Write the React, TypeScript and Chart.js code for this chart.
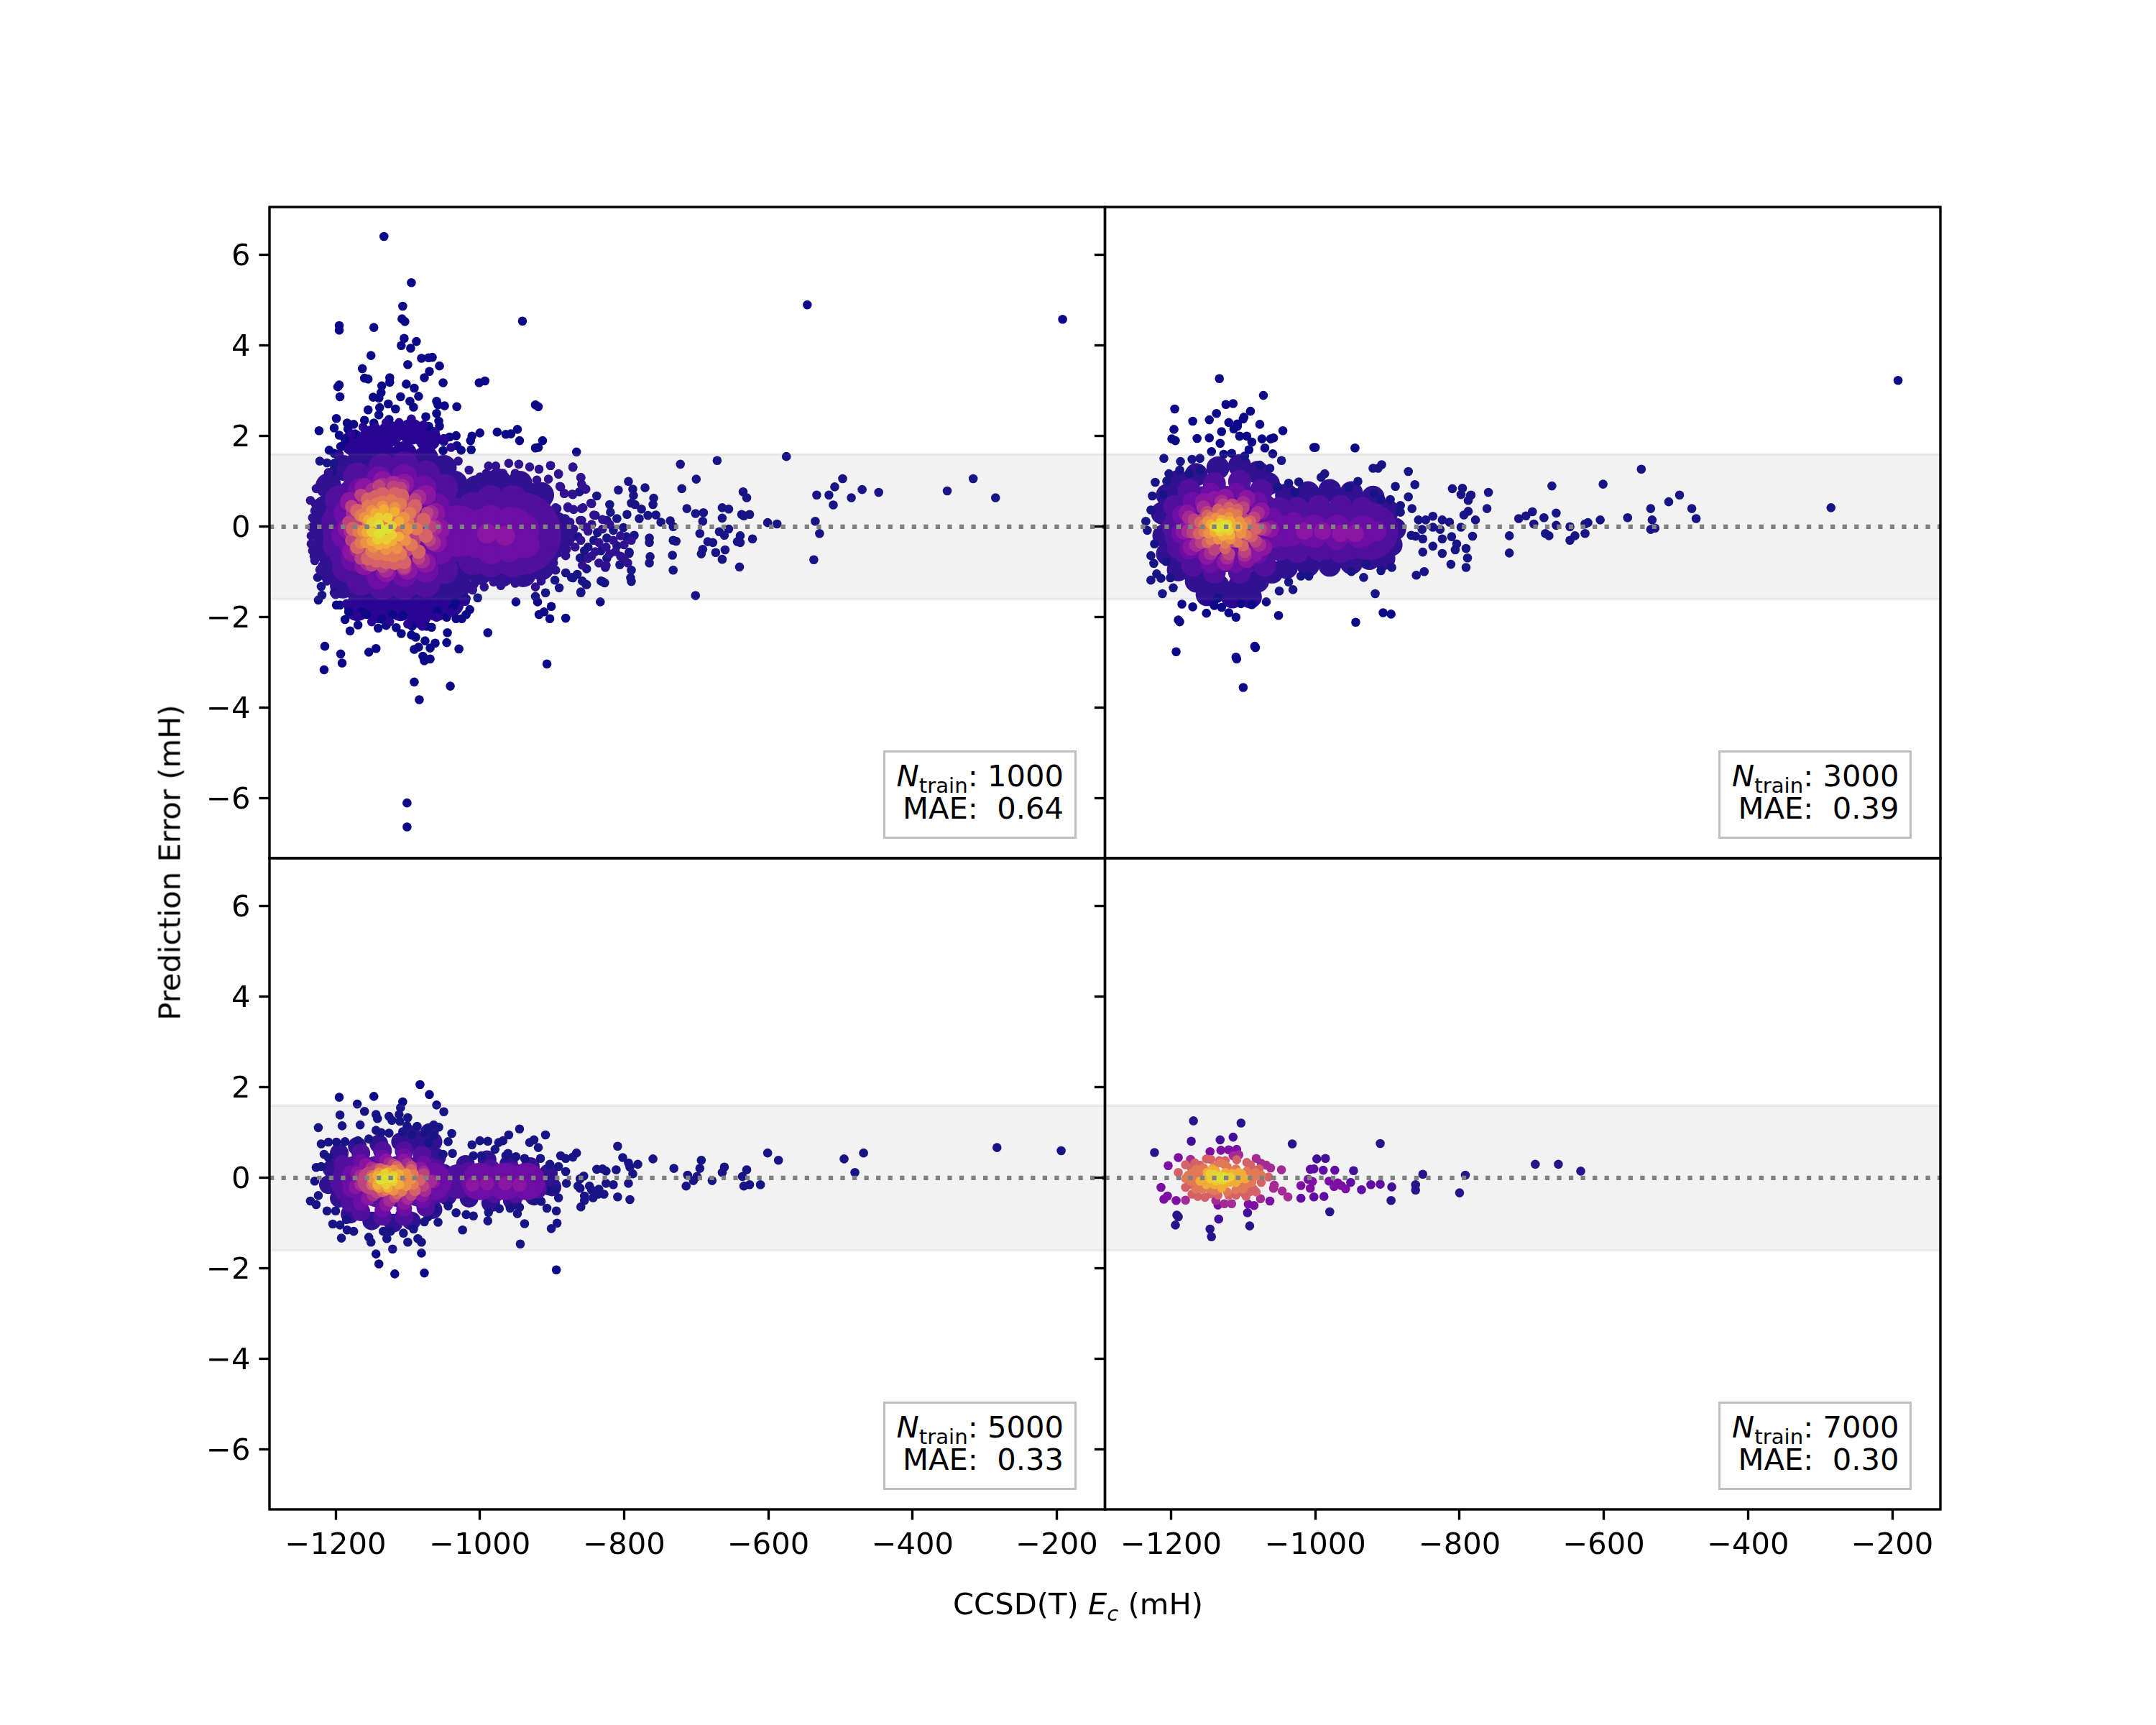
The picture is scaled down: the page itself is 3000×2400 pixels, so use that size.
import { useEffect, useRef } from 'react';
import { Chart, registerables } from 'chart.js';

Chart.register(...registerables);

type Pt = [number, number];

const xTicks = [-1200, -1000, -800, -600, -400, -200];
const yTicks = [-6, -4, -2, 0, 2, 4, 6];
const bandHalfWidth = 1.6;
const trainSizes = ['1000', '3000', '5000', '7000'];
const maeValues = ['0.64', '0.39', '0.33', '0.30'];

// panel A, Ntrain 1000: low density first, hot core last
const aOut: Pt[] = [[-1133,6.41],[-1095,5.39],[-1107,4.87],[-1108,4.59],[-1104,4.53],[-1195,4.44],[-1195,4.34],[-1147,4.4],[-941,4.54],[-1105,4.16],[-1088,4.09],[-1109,4],[-1096,3.94],[-1151,3.78],[-1081,3.72],[-1071,3.73],[-1066,3.74],[-1056,3.55],[-1100,3.58],[-1163,3.49],[-1070,3.43],[-1077,3.29],[-1160,3.28],[-1155,3.26],[-1125,3.29],[-1125,3.19],[-1051,3.18],[-1001,3.18],[-993,3.22],[-1195,3.13],[-1197,3.09],[-1194,2.87],[-1136,3.11],[-1102,3.15],[-1091,3.06],[-1137,2.96],[-1148,2.86],[-1140,2.84],[-1110,2.87],[-1085,2.88],[-1097,2.77],[-1060,2.77],[-1127,2.71],[-1092,2.64],[-1049,2.67],[-1032,2.65],[-1058,2.69],[-923,2.69],[-919,2.65],[-1139,2.63],[-1155,2.58],[-1117,2.6],[-1140,2.47],[-1199,2.39],[-1060,2.5],[-1075,2.43],[-1223,2.12],[-1202,2.18],[-1184,2.29],[-1183,2.16],[-1175,2.26],[-1160,2.35],[-1147,2.29],[-1126,2.37],[-1057,2.33],[-1056,2.22],[-1071,2.22],[-1195,2.02],[-1187,1.93],[-1173,2.05],[-976,2.09],[-964,2.04],[-957,2.05],[-948,2.15],[-945,1.9],[-913,1.9],[-923,1.74],[-919,1.75],[-1000,2.07],[-1011,2],[-1013,1.9],[-1033,2.01],[-1042,1.98],[-1050,1.88],[-1032,1.79],[-1026,1.69],[-1012,1.7],[-1051,1.68],[-1209,1.69],[-1202,1.62],[-1193,1.77],[-1222,1.45],[-1212,1.41],[-1202,1.4],[-1204,1.22],[-866,1.65],[-871,1.31],[-902,1.35],[-891,1.16],[-860,1.08],[-889,0.89],[-883,0.73],[-872,0.72],[-862,0.77],[-854,0.83],[-859,0.94],[-838,0.68],[-846,0.52],[-859,0.4],[-878,0.42],[-893,0.4],[-882,0.18],[-897,0.18],[-820,0.49],[-819,0.32],[-808,0.81],[-794,1],[-788,0.83],[-787,0.69],[-790,0.52],[-785,0.49],[-771,0.86],[-759,0.63],[-760,0.49],[-776,0.39],[-779,0.18],[-796,0.27],[-840,0.25],[-810,0.18],[-824,0.14],[-859,0.14],[-767,0.25],[-756,0.26],[-749,0.1],[-736,0.13],[-732,0],[-722,1.38],[-720,0.84],[-700,1.05],[-671,1.46],[-713,0.4],[-701,0.29],[-690,0.31],[-691,0.12],[-664,0.42],[-655,0.39],[-664,0.19],[-635,0.77],[-637,0.27],[-655,-0.05],[-668,-0.11],[-661,-0.19],[-695,-0.15],[-732,-0.3],[-728,-0.32],[-765,-0.25],[-765,-0.35],[-684,-0.33],[-677,-0.35],[-639,-0.2],[-639,-0.35],[-691,-0.5],[-693,-0.6],[-673,-0.57],[-660,-0.51],[-733,-0.63],[-664,-0.72],[-764,-0.66],[-765,-0.8],[-732,-0.96],[-640,-0.89],[-790,-0.96],[-791,-1.13],[-790,-1.21],[-701,-1.52],[-806,-0.84],[-826,-0.9],[-852,-0.93],[-830,-1.21],[-827,-1.24],[-853,-1.27],[-860,-1.44],[-871,-1.13],[-793,-0.59],[-824,-0.7],[-859,-0.7],[-864,-0.22],[-837,-0.13],[-815,-0.08],[-797,-0.22],[-786,-0.19],[-850,-0.45],[-832,-0.53],[-810,-0.42],[-793,-0.56],[-842,-0.3],[-824,-0.25],[-801,-0.02],[-575,1.55],[-546,4.9],[-192,4.58],[-535,0.12],[-529,-0.15],[-537,-0.73],[-533,0.7],[-516,0.7],[-508,0.88],[-497,1.06],[-510,0.48],[-485,0.64],[-470,0.82],[-447,0.76],[-352,0.79],[-316,1.06],[-285,0.64],[-630,0.64],[-634,0.24],[-626,0.27],[-601,0.09],[-588,0.06],[-643,-0.33],[-622,-0.27],[-1101,-6.1],[-1101,-6.63],[-1084,-3.82],[-1091,-3.43],[-1041,-3.52],[-1216,-3.16],[-1191,-3.01],[-1193,-2.81],[-1215,-2.64],[-1154,-2.77],[-1144,-2.69],[-1091,-2.71],[-1085,-2.66],[-1079,-2.86],[-1069,-2.92],[-1077,-2.96],[-1069,-2.68],[-1062,-2.57],[-1046,-2.56],[-1045,-2.34],[-1029,-2.7],[-989,-2.34],[-907,-3.03],[-1076,-2.52],[-1089,-2.44],[-1095,-2.39],[-1109,-2.36],[-1116,-2.23],[-1094,-2.2],[-1067,-2.22],[-1074,-2.2],[-1180,-2.3],[-1169,-2.17],[-1187,-2.05],[-1141,-2.24],[-1130,-2.18],[-1046,-2],[-1033,-2.03],[-1025,-2.03],[-1019,-1.94],[-1014,-1.83],[-918,-1.94],[-911,-1.88],[-903,-2.03],[-901,-1.76],[-881,-2.02],[-920,-1.66],[-950,-1.66],[-1003,-1.57],[-1019,-1.59],[-1034,-1.67],[-1038,-1.8],[-1059,-1.86],[-1107,-1.96],[-1121,-1.94],[-1136,-2.04],[-1157,-1.94],[-1164,-1.88],[-1182,-1.88],[-1199,-1.73],[-1194,-1.73],[-1224,-1.62],[-1219,-1.51],[-1220,-1.32],[-1225,-1.12],[-1202,-1.46],[-909,-1.46],[-923,-1.54],[-890,-1.35],[-896,-1.18],[-881,-1.02],[-873,-1.12],[-865,-1.05],[-860,-1.46],[-852,-1.28],[-858,-1.2],[-832,-1.2],[-833,-1.66],[-861,-0.69],[-855,-0.53]];
const aEdge: Pt[] = [[-1235,0.58],[-1227,0.84],[-1217,0.79],[-1229,0.35],[-1230,0.15],[-1233,-0.01],[-1234,-0.38],[-1232,-0.53],[-1229,-0.75],[-1219,-1],[-988,1.34],[-978,1.34],[-960,1.4],[-946,1.38],[-931,1.32],[-918,1.27],[-902,1.35],[-891,1.17],[-871,1.32],[-860,1.09],[-905,1.05],[-921,1.03],[-940,1.1],[-951,1.18],[-968,1.18],[-991,1.18],[-991,1.03],[-979,0.92],[-1008,0.84],[-961,0.95],[-945,0.9],[-928,0.87],[-888,0.88],[-883,0.74],[-871,0.71],[-858,0.9],[-853,0.83],[-845,0.51],[-857,0.42],[-870,0.38],[-878,0.44],[-895,0.42],[-908,0.52],[-922,0.6],[-898,0.21],[-881,0.16],[-861,0.14],[-842,0.26],[-830,0.16],[-895,-0.53],[-881,-0.43],[-905,-0.43],[-898,-0.69],[-895,-0.96],[-881,-0.64],[-898,-0.8],[-911,-0.75],[-994,-1.33],[-1008,-1.27],[-971,-1.3],[-951,-1.25],[-936,-1.17],[-923,-1.33],[-915,-1.2],[-928,-1.06],[-981,-1.22],[-1018,-1.06],[-1178,2.05],[-1162,2.2],[-1145,2.2],[-1130,2.3],[-1112,2.3],[-1095,2.38],[-1078,2.25],[-1062,2.1],[-1050,1.95],[-1040,1.75],[-1195,1.6],[-1210,1.2],[-1222,0.9],[-1228,0.5],[-1232,0.2],[-1234,-0.2],[-1230,-0.65],[-1222,-0.95],[-1212,-1.2],[-1200,-1.5],[-1185,-1.7],[-1170,-1.95],[-1150,-2.1],[-1125,-2.1],[-1100,-2.15],[-1080,-2.2],[-1060,-2],[-1040,-1.9],[-1020,-1.65],[-1010,-1.4],[-1030,1.45],[-1015,1.25],[-1000,1.1],[-880,-0.5],[-873,-0.1],[-875,0.1],[-877,-0.3],[-870,-0.05],[-860,-0.3],[-850,-0.1],[-845,0.05],[-835,-0.35],[-825,-0.45],[-815,-0.3],[-805,-0.2],[-800,-0.4],[-790,-0.3],[-840,-0.55],[-830,-0.05],[-820,0.05],[-812,-0.55],[-800,-0.7],[-868,-0.45],[-855,0],[-845,-0.65],[-835,-0.8],[-820,-0.6],[-805,-0.65],[-795,-0.8],[-850,-0.7],[-858,-0.85],[-825,-0.85]];
const aShell: Pt[] = [[-1210,0.9],[-1215,0.4],[-1218,-0.1],[-1215,-0.5],[-1208,-0.95],[-1190,1.3],[-1190,-1.3],[-1165,1.5],[-1165,-1.5],[-1135,1.6],[-1135,-1.6],[-1105,1.6],[-1105,-1.55],[-1075,1.5],[-1075,-1.5],[-1050,1.3],[-1050,-1.4],[-1035,0.95],[-1035,-1.1],[-1025,0.5],[-1025,-0.6],[-1025,0],[-1150,1.95],[-1125,2.05],[-1095,2.1],[-1072,1.95],[-1175,1.85],[-1170,-1.8],[-1140,-1.85],[-1110,-1.8],[-1085,-1.95],[-1060,-1.8],[-1040,-1.7],[-1005,0.85],[-975,1],[-945,0.95],[-915,0.7],[-1000,-1],[-970,-1.05],[-940,-1.05],[-915,-0.9],[-895,-0.4],[-895,0.05],[-885,-0.2],[-1030,-1.3]];
const aBase: Pt[] = [[-1130,-0.05]];
const aBaseTail: Pt[] = [[-985,-0.15],[-945,-0.15]];
const aDeep: Pt[] = [[-1195,0.6],[-1200,0.1],[-1198,-0.4],[-1185,-0.9],[-1170,1.1],[-1165,-1.2],[-1135,1.3],[-1135,-1.3],[-1105,1.35],[-1105,-1.3],[-1075,1.15],[-1075,-1.25],[-1050,0.85],[-1050,-0.95],[-1040,0.35],[-1040,-0.5],[-1010,0.45],[-985,0.6],[-955,0.6],[-925,0.3],[-1010,-0.75],[-985,-0.8],[-955,-0.8],[-925,-0.65],[-915,-0.2],[-1020,-0.15]];
const aFillLow: Pt[] = [[-1128,-0.05]];
const aFillTail: Pt[] = [[-1030,-0.1],[-990,-0.15],[-955,-0.15]];
const aViolet: Pt[] = [[-1185,0.3],[-1188,-0.2],[-1175,-0.7],[-1165,0.8],[-1140,1.05],[-1140,-1.1],[-1105,1.1],[-1105,-1.05],[-1078,0.85],[-1075,-0.95],[-1060,0.45],[-1055,-0.55],[-1050,-0.05],[-1005,0.05],[-985,0.2],[-960,0.15],[-935,-0.05],[-1005,-0.4],[-985,-0.55],[-960,-0.5],[-935,-0.4]];
const aPurple: Pt[] = [[-1180,0.55],[-1183,-0.05],[-1177,-0.55],[-1160,0.85],[-1160,-0.85],[-1135,1],[-1130,-1],[-1105,0.95],[-1100,-0.95],[-1075,0.7],[-1075,-0.8],[-1062,0.3],[-1060,-0.35],[-1055,-0.05],[-990,-0.15],[-965,-0.2]];
const aMagenta: Pt[] = [[-1175,0.3],[-1178,-0.1],[-1170,-0.5],[-1160,0.65],[-1155,-0.8],[-1135,0.9],[-1130,-0.95],[-1108,0.88],[-1105,-0.9],[-1085,0.65],[-1080,-0.75],[-1068,0.3],[-1065,-0.35],[-1063,-0.02],[-1148,0.8],[-1120,0.95]];
const aFillMid: Pt[] = [[-1128,-0.03]];
const aRose: Pt[] = [[-1178,0.45],[-1182,0.1],[-1178,-0.3],[-1165,0.7],[-1165,-0.7],[-1140,0.9],[-1135,-0.88],[-1110,0.85],[-1105,-0.9],[-1090,0.6],[-1085,-0.7],[-1073,0.3],[-1070,-0.3],[-1068,0],[-1150,-0.85],[-1120,0.88]];
const aSalmon: Pt[] = [[-1170,0.35],[-1176,-0.05],[-1170,-0.45],[-1155,0.6],[-1155,-0.7],[-1135,0.72],[-1130,-0.78],[-1108,0.68],[-1105,-0.78],[-1090,0.45],[-1085,-0.55],[-1078,0.15],[-1075,-0.2],[-1145,0.65],[-1118,0.72],[-1118,-0.8],[-1143,-0.75]];
const aFillHot: Pt[] = [[-1130,-0.05]];
const aCoral: Pt[] = [[-1165,0.25],[-1168,-0.1],[-1165,-0.35],[-1155,0.45],[-1150,-0.55],[-1135,0.55],[-1130,-0.62],[-1110,0.5],[-1110,-0.6],[-1097,0.3],[-1095,-0.4],[-1088,-0.05],[-1123,0.58],[-1120,-0.65],[-1100,0.1],[-1143,0.5],[-1142,-0.6]];
const aOrange: Pt[] = [[-1160,0.2],[-1162,-0.1],[-1158,-0.35],[-1150,0.35],[-1148,-0.45],[-1135,0.45],[-1130,-0.5],[-1118,0.42],[-1115,-0.48],[-1105,0.2],[-1103,-0.3],[-1100,-0.05],[-1125,0.3]];
const aAmber: Pt[] = [[-1155,0.15],[-1157,-0.12],[-1150,-0.32],[-1145,0.3],[-1133,0.38],[-1130,-0.38],[-1118,0.33],[-1112,0.12],[-1112,-0.22],[-1122,-0.32],[-1140,-0.4]];
const aGold: Pt[] = [[-1150,0.1],[-1150,-0.12],[-1142,-0.28],[-1140,0.2],[-1128,0.2],[-1122,0.02],[-1122,-0.18],[-1130,-0.28]];
const aCore: Pt[] = [[-1140,0.05],[-1135,-0.08],[-1128,-0.05],[-1140,-0.15]];

// panel B, Ntrain 3000
const bOut: Pt[] = [[-1195,2.6],[-1170,2.33],[-1196,2.15],[-1199,1.94],[-1194,1.9],[-1164,1.95],[-1147,1.96],[-1132,1.84],[-1100,2.38],[-1108,2.22],[-1113,2.16],[-1077,2.26],[-1095,2],[-1088,1.87],[-1092,1.7],[-1070,1.74],[-1062,1.94],[-1058,1.96],[-1045,2.12],[-1059,1.61],[-1047,1.46],[-1000,1.75],[-945,1.74],[-1210,1.51],[-1144,1.66],[-1127,1.6],[-1116,1.62],[-1187,1.44],[-1171,1.49],[-1160,1.51],[-1098,1.56],[-987,1.17],[-992,1.09],[-920,1.29],[-908,1.37],[-913,1.29],[-871,1.22],[-862,0.93],[-941,1],[-954,0.87],[-889,0.89],[-918,0.74],[-896,0.6],[-871,0.66],[-866,0.4],[-882,0.47],[-882,0.32],[-909,0.6],[-1023,0.99],[-1037,0.96],[-1052,0.88],[-1028,0.76],[-1222,0.98],[-1203,1.17],[-1188,1.25],[-1175,1.18],[-1160,1.25],[-1063,1.29],[-1077,1.36],[-1206,1.01],[-1226,0.68],[-1211,0.71],[-1228,0.37],[-1235,0.12],[-1233,-0.08],[-1223,-0.38],[-1228,-0.64],[-1224,-0.81],[-1207,-0.77],[-1214,-1.14],[-1228,-1.18],[-1220,-1.04],[-1201,-1.13],[-1212,-1.48],[-1197,-1.35],[-1185,-1.71],[-1170,-1.77],[-1151,-1.91],[-1188,-2.1],[-1193,-2.76],[-1109,-2.92],[-1083,-2.67],[-1100,-3.55],[-1110,-2],[-1120,-1.9],[-1130,-1.78],[-1140,-1.74],[-1135,-1.58],[-1103,-1.7],[-1088,-1.72],[-1068,-1.66],[-1051,-1.96],[-1050,-1.42],[-1031,-1.39],[-1037,-1.22],[-1009,-1.09],[-1020,-1.09],[-944,-2.11],[-895,-1.93],[-917,-1.48],[-933,-1.12],[-930,-0.83],[-950,-0.99],[-909,-0.97],[-894,-0.9],[-860,-1.07],[-849,-0.99],[-851,-0.56],[-812,-0.83],[-791,-0.9],[-806,-0.51],[-789,-0.69],[-810,0.84],[-798,0.71],[-785,0.69],[-788,0.58],[-788,0.34],[-794,0.26],[-782,-0.21],[-778,0.15],[-857,0.15],[-847,0.15],[-837,0.23],[-824,0.15],[-814,0.1],[-861,-0.21],[-851,-0.27],[-837,-0.43],[-824,-0.27],[-824,-0.59],[-811,-0.22],[-798,-0.01],[-804,-0.38],[-791,-0.48],[-837,-0.01],[-852,-0.06],[-827,-0.06],[-867,-0.19],[-192,3.23],[-285,0.42],[-472,0.18],[-478,0.4],[-495,0.7],[-510,0.55],[-535,0.4],[-533,0.15],[-529,-0.03],[-535,-0.06],[-548,1.27],[-567,0.2],[-601,0.94],[-605,0.15],[-622,0.09],[-626,-0.15],[-640,-0.2],[-647,-0.3],[-672,0.9],[-666,0.3],[-666,0.03],[-676,-0.2],[-683,0.2],[-699,0.33],[-708,0.24],[-718,0.18],[-731,-0.2],[-731,-0.58],[-647,0],[-681,-0.15],[-697,0.06],[-626,0.06],[-760,0.76],[-762,0.4],[-784,0.7],[-796,0.85],[-1133,3.27],[-1072,2.9],[-1110,-2.88],[-1084,-2.64],[-1190,-2.06],[-906,-1.9],[-1002,1.75],[-1147,2.36],[-1108,2.27],[-1074,1.94],[-1124,2.7],[-1137,2.5],[-1114,2.72],[-1099,2.42],[-1120,2.3],[-1090,2.55],[-1130,2.1],[-1105,2]];
const bShell: Pt[] = [[-1205,0.7],[-1212,0.3],[-1210,-0.2],[-1205,-0.6],[-1190,1],[-1165,1.15],[-1135,1.3],[-1105,1.35],[-1080,1.2],[-1065,0.95],[-1190,-0.95],[-1165,-1.2],[-1135,-1.3],[-1105,-1.3],[-1080,-1.2],[-1060,-1],[-1040,0.7],[-1040,-0.9],[-1010,0.75],[-980,0.8],[-950,0.75],[-920,0.65],[-900,0.35],[-1010,-0.85],[-980,-0.85],[-950,-0.8],[-925,-0.7],[-895,-0.4],[-890,-0.05],[-905,-0.7],[-1150,-1.5],[-1115,-1.55],[-1090,-1.55]];
const bBase: Pt[] = [[-1150,-0.05],[-1125,-0.05],[-1100,-0.05]];
const bBaseTail: Pt[] = [[-1030,-0.1],[-990,-0.1],[-955,-0.1],[-925,-0.1]];
const bDeep: Pt[] = [[-1195,0.45],[-1197,0],[-1190,-0.45],[-1175,0.8],[-1170,-0.85],[-1140,0.95],[-1140,-1],[-1105,1],[-1105,-1],[-1075,0.8],[-1070,-0.85],[-1050,0.4],[-1050,-0.5],[-1025,0.4],[-1025,-0.55],[-995,0.45],[-965,0.45],[-935,0.4],[-910,0.1],[-995,-0.5],[-965,-0.55],[-935,-0.45],[-910,-0.25]];
const bFillLow: Pt[] = [[-1148,-0.05],[-1105,-0.05]];
const bFillTail: Pt[] = [[-1040,-0.1],[-1005,-0.1],[-970,-0.1],[-935,-0.1]];
const bViolet: Pt[] = [[-1185,0.25],[-1186,-0.15],[-1175,-0.5],[-1170,0.55],[-1145,0.75],[-1145,-0.8],[-1110,0.75],[-1110,-0.8],[-1080,0.55],[-1080,-0.6],[-1060,0.2],[-1058,-0.25],[-1030,0.1],[-1030,-0.2],[-1000,0.05],[-1000,-0.25],[-970,0.05],[-970,-0.3],[-940,-0.05],[-940,-0.25],[-915,-0.1]];
const bPurple: Pt[] = [[-1178,0.3],[-1182,-0.1],[-1172,-0.45],[-1155,0.55],[-1150,-0.65],[-1125,0.65],[-1125,-0.78],[-1095,0.62],[-1095,-0.72],[-1075,0.35],[-1072,-0.45],[-1062,-0.05],[-1085,-0.6],[-1140,0.6],[-1015,-0.1],[-990,-0.1],[-965,-0.15],[-945,-0.15]];
const bMagenta: Pt[] = [[-1175,0.2],[-1176,-0.1],[-1165,-0.4],[-1155,0.42],[-1145,-0.58],[-1130,0.55],[-1122,-0.68],[-1100,0.52],[-1098,-0.62],[-1080,0.3],[-1078,-0.4],[-1070,-0.05]];
const bFillMid: Pt[] = [[-1145,-0.05],[-1110,-0.05]];
const bRose: Pt[] = [[-1168,0.15],[-1170,-0.12],[-1158,-0.35],[-1150,0.32],[-1140,-0.5],[-1128,0.48],[-1120,-0.6],[-1100,0.42],[-1098,-0.55],[-1085,0.2],[-1083,-0.32],[-1076,-0.05],[-1115,0.48],[-1155,0.05]];
const bSalmon: Pt[] = [[-1160,0.1],[-1162,-0.15],[-1150,0.25],[-1150,-0.35],[-1135,0.38],[-1125,-0.48],[-1108,0.38],[-1100,-0.42],[-1090,0.12],[-1088,-0.22],[-1082,-0.05],[-1120,0.42]];
const bFillHot: Pt[] = [[-1135,-0.03],[-1115,-0.03]];
const bCoral: Pt[] = [[-1155,0.05],[-1155,-0.12],[-1145,0.22],[-1145,-0.3],[-1130,0.3],[-1125,-0.38],[-1108,0.28],[-1108,-0.35],[-1095,0.1],[-1095,-0.18],[-1118,0.32]];
const bOrange: Pt[] = [[-1150,0.12],[-1148,-0.15],[-1138,0.2],[-1135,-0.28],[-1120,0.22],[-1118,-0.28],[-1105,0.12],[-1103,-0.15],[-1100,0]];
const bAmber: Pt[] = [[-1145,0.05],[-1140,-0.12],[-1130,0.15],[-1118,0.12],[-1118,-0.18],[-1108,0],[-1128,-0.2]];
const bGold: Pt[] = [[-1140,0],[-1132,0.08],[-1132,-0.1],[-1122,0.05],[-1120,-0.08]];
const bCore: Pt[] = [[-1134,-0.02],[-1123,0],[-1128,0.03]];

// panel C, Ntrain 5000
const cOut: Pt[] = [[-1083,2.06],[-1070,1.84],[-1060,1.61],[-1050,1.46],[-1195,1.78],[-1147,1.8],[-1170,1.63],[-1160,1.47],[-1107,1.68],[-1110,1.55],[-1112,1.4],[-1144,1.4],[-1142,1.31],[-1194,1.39],[-1191,1.15],[-1224,1.11],[-1166,1.17],[-1126,1.36],[-1122,1.27],[-1100,1.33],[-1111,1.25],[-1101,1.15],[-1087,1.14],[-1144,1.05],[-1137,1],[-1126,0.99],[-1107,1.02],[-1094,0.96],[-1077,0.99],[-1071,1.1],[-1064,1.17],[-1057,1.12],[-1064,0.94],[-1071,0.78],[-1039,0.98],[-1044,0.8],[-1038,0.54],[-1051,0.52],[-1220,0.75],[-1210,0.79],[-1199,0.79],[-1187,0.8],[-1169,0.82],[-1154,0.86],[-1216,0.52],[-1210,0.45],[-1011,0.73],[-1000,0.82],[-989,0.81],[-974,0.78],[-968,0.82],[-960,0.95],[-945,1.08],[-979,0.63],[-931,0.78],[-925,0.84],[-919,0.67],[-909,0.95],[-866,0.55],[-871,0.46],[-888,0.49],[-881,0.43],[-961,0.54],[-950,0.47],[-938,0.43],[-916,0.43],[-964,0.49],[-998,0.49],[-1009,0.49],[-903,0.3],[-891,0.25],[-881,0.14],[-880,-0.12],[-895,-0.25],[-891,-0.44],[-894,-0.73],[-893,-1],[-901,-1.12],[-907,-0.67],[-915,-0.52],[-906,-0.28],[-925,-0.51],[-948,-0.79],[-945,-0.65],[-958,-0.67],[-938,-1.01],[-944,-1.46],[-894,-2.03],[-989,-0.95],[-988,-0.76],[-973,-0.68],[-1009,-0.84],[-1019,-0.81],[-1033,-0.77],[-1024,-1.15],[-1044,-0.62],[-1058,-0.98],[-1072,-0.86],[-1077,-0.97],[-1062,-0.7],[-1081,-1.42],[-1086,-1.34],[-1081,-1.66],[-1077,-2.1],[-1118,-2.12],[-1140,-1.9],[-1144,-1.68],[-1121,-1.57],[-1100,-1.42],[-1106,-1.22],[-1092,-1.13],[-1129,-1.34],[-1124,-1.18],[-1134,-1.18],[-1151,-1.42],[-1154,-1.31],[-1192,-1.33],[-1175,-1.18],[-1184,-1.15],[-1204,-1.02],[-1194,-1.04],[-1185,-0.92],[-1212,-0.73],[-1200,-0.73],[-1235,-0.51],[-1227,-0.59],[-1224,-0.39],[-1229,-0.07],[-1227,0.23],[-1220,0.25],[-860,-0.64],[-843,-0.44],[-855,-0.4],[-838,0.19],[-856,0.04],[-861,-0.02],[-861,-0.23],[-848,-0.18],[-835,-0.25],[-828,-0.36],[-830,0.2],[-194,0.6],[-283,0.67],[-468,0.55],[-480,0.12],[-495,0.42],[-586,0.39],[-601,0.55],[-611,-0.15],[-626,-0.15],[-634,-0.18],[-630,0.18],[-636,0.03],[-664,0.12],[-661,0.24],[-678,-0.06],[-693,0.39],[-695,0.21],[-699,0.03],[-704,-0.06],[-714,-0.18],[-731,0.21],[-760,0.42],[-781,0.3],[-788,0.09],[-792,0.24],[-809,0.7],[-802,0.45],[-794,0.33],[-794,-0.12],[-792,-0.48],[-815,-0.15],[-811,0.18],[-825,0.15],[-825,-0.12],[-836,-0.36],[-845,-0.27],[-864,-0.18],[-855,-0.5],[-809,-0.42],[-712,0.06]];
const cShell: Pt[] = [[-1205,0.2],[-1210,-0.15],[-1195,-0.45],[-1195,0.55],[-1170,0.7],[-1140,0.75],[-1110,0.8],[-1085,0.75],[-1060,0.45],[-1050,0.1],[-1180,-0.8],[-1150,-0.95],[-1120,-1],[-1095,-0.95],[-1065,-0.7],[-1045,-0.4],[-1020,0.3],[-990,0.4],[-960,0.3],[-930,0.25],[-905,0.1],[-1015,-0.45],[-985,-0.55],[-955,-0.5],[-925,-0.4],[-900,-0.2],[-1070,1],[-1095,0.95],[-1065,0.8],[-1025,-0.1]];
const cBase: Pt[] = [[-1170,-0.08],[-1140,-0.08],[-1110,-0.08],[-1080,-0.08]];
const cBaseTail: Pt[] = [[-1030,-0.08],[-1000,-0.08],[-970,-0.08],[-940,-0.08]];
const cDeep: Pt[] = [[-1190,0.3],[-1195,-0.1],[-1180,-0.55],[-1165,0.55],[-1135,0.6],[-1105,0.6],[-1080,0.5],[-1060,0.2],[-1165,-0.75],[-1135,-0.85],[-1105,-0.85],[-1075,-0.65],[-1055,-0.35],[-1040,0],[-1015,0.15],[-985,0.2],[-955,0.15],[-925,0.05],[-1010,-0.25],[-980,-0.35],[-950,-0.35],[-920,-0.25]];
const cFillLow: Pt[] = [[-1165,-0.08],[-1130,-0.08],[-1095,-0.08],[-1065,-0.08],[-1000,-0.08],[-965,-0.08],[-935,-0.08]];
const cViolet: Pt[] = [[-1180,0.1],[-1180,-0.25],[-1165,0.35],[-1165,-0.55],[-1135,0.45],[-1135,-0.7],[-1105,0.48],[-1105,-0.68],[-1078,0.32],[-1078,-0.5],[-1060,0],[-1060,-0.25],[-1010,-0.05],[-985,-0.05],[-955,-0.05],[-930,-0.1]];
const cPurple: Pt[] = [[-1170,0.1],[-1172,-0.2],[-1158,0.28],[-1155,-0.45],[-1130,0.38],[-1130,-0.58],[-1105,0.38],[-1105,-0.55],[-1082,0.2],[-1080,-0.38],[-1065,-0.08],[-990,-0.12],[-965,-0.12],[-945,-0.15],[-1010,-0.15]];
const cMagenta: Pt[] = [[-1165,0.05],[-1165,-0.15],[-1150,0.22],[-1148,-0.38],[-1125,0.32],[-1125,-0.5],[-1100,0.3],[-1100,-0.45],[-1078,0.12],[-1076,-0.28],[-1068,-0.08]];
const cFillMid: Pt[] = [[-1150,-0.06],[-1125,-0.06],[-1100,-0.06]];
const cRose: Pt[] = [[-1155,0.05],[-1158,-0.18],[-1143,0.2],[-1143,-0.33],[-1120,0.3],[-1118,-0.42],[-1095,0.25],[-1095,-0.38],[-1078,0.08],[-1078,-0.18]];
const cSalmon: Pt[] = [[-1150,0.05],[-1150,-0.15],[-1138,0.2],[-1135,-0.3],[-1115,0.25],[-1115,-0.35],[-1095,0.18],[-1090,-0.28],[-1083,-0.05]];
const cFillHot: Pt[] = [[-1140,-0.05],[-1115,-0.05]];
const cCoral: Pt[] = [[-1148,0.02],[-1148,-0.12],[-1130,0.18],[-1130,-0.28],[-1112,0.2],[-1108,-0.3],[-1092,0.08],[-1092,-0.15]];
const cOrange: Pt[] = [[-1150,0],[-1140,0.12],[-1140,-0.22],[-1120,0.18],[-1120,-0.28],[-1102,0.1],[-1102,-0.18],[-1095,-0.03]];
const cAmber: Pt[] = [[-1142,0.05],[-1142,-0.15],[-1128,0.12],[-1128,-0.22],[-1112,0.08],[-1112,-0.15]];
const cGold: Pt[] = [[-1138,0],[-1132,0.1],[-1130,-0.15],[-1120,0.05],[-1120,-0.08]];
const cCore: Pt[] = [[-1138,-0.05],[-1130,-0.02],[-1123,-0.02]];

// panel D, Ntrain 7000: sparse enough to read point by point
const dOut: Pt[] = [[-1169,1.26],[-1103,1.21],[-1223,0.56],[-1032,0.75],[-910,0.76],[-895,-0.5],[-980,-0.75],[-1194,-1.04],[-1144,-1.3],[-1146,-1.13],[-1091,-1.06],[-1192,-0.82],[-1190,-0.86],[-632,0.15],[-663,0.3],[-695,0.3],[-792,0.06],[-800,-0.33],[-851,0.08],[-861,-0.15],[-861,-0.27]];
const dDeep: Pt[] = [[-1172,0.81],[-1132,0.84],[-1114,0.9],[-1134,-0.91],[-1094,-0.77],[-998,0.42],[-986,0.43],[-947,0.16],[-894,-0.2]];
const dViolet: Pt[] = [[-973,0.17],[-989,0.17],[-1002,0.2],[-1007,0.19],[-1002,-0.42],[-988,-0.41],[-923,-0.15],[-910,-0.14],[-936,-0.26],[-1020,-0.45],[-951,-0.1]];
const dPurple: Pt[] = [[-1010,-0.03],[-1004,-0.08],[-1007,-0.23],[-1020,-0.17],[-981,-0.07],[-974,-0.19],[-969,-0.11],[-964,-0.17],[-958,-0.24],[-1063,-0.51],[-1085,-0.61],[-1093,-0.58],[-1190,0.45],[-1214,-0.21],[-1193,-0.5],[-1210,-0.47],[-1205,-0.4],[-1204,0.27],[-1146,0.58],[-1131,0.61],[-1120,0.62],[-1109,0.63],[-1135,-0.6]];
const dMagenta: Pt[] = [[-1173,0.41],[-1047,0.18],[-1038,-0.42],[-1046,-0.29],[-1057,-0.16],[-1058,-0.23],[-1076,-0.46],[-1180,-0.49],[-1126,-0.57],[-1116,-0.57],[-1138,-0.5],[-1082,0.43],[-1114,0.49],[-1106,0.51],[-1062,0.22],[-1068,0.28],[-1075,0.32]];
const dSalmon: Pt[] = [[-1190,0.12],[-1180,0.29],[-1167,0.33],[-1151,0.42],[-1145,0.41],[-1109,0.4],[-1090,0.29],[-1095,0.34],[-1133,0.38],[-1096,-0.41],[-1082,-0.31],[-1086,-0.24],[-1065,0.02],[-1110,-0.38],[-1153,-0.43],[-1163,-0.41],[-1171,-0.36],[-1180,-0.21],[-1175,-0.15],[-1172,0.22],[-1160,0.28],[-1100,-0.32],[-1120,-0.38],[-1135,-0.38],[-1145,-0.35],[-1088,0.2],[-1078,0.2],[-1075,-0.1],[-1090,-0.3],[-1125,0.38]];
const dOrange: Pt[] = [[-1176,0.06],[-1180,-0.01],[-1165,0.19],[-1155,0.22],[-1163,-0.16],[-1166,-0.25],[-1156,-0.25],[-1140,-0.28],[-1122,-0.31],[-1103,-0.18],[-1093,-0.12],[-1083,0.12],[-1075,0.06],[-1090,0.04],[-1131,0.33],[-1122,0.24],[-1166,0.03],[-1170,0.12],[-1172,-0.08],[-1150,-0.2],[-1145,-0.25],[-1135,-0.26],[-1110,-0.26],[-1100,-0.25],[-1088,-0.1],[-1085,0.02],[-1095,0.15],[-1110,0.2],[-1125,0.28],[-1140,0.25],[-1160,0.12],[-1165,-0.12]];
const dAmber: Pt[] = [[-1143,0.2],[-1106,0.12],[-1102,0.09],[-1097,-0.02],[-1130,-0.22],[-1151,-0.15],[-1160,-0.07],[-1118,-0.1],[-1113,0.06],[-1150,0.12],[-1155,-0.05],[-1150,-0.1],[-1140,-0.15],[-1125,-0.13],[-1110,-0.1],[-1105,-0.02],[-1115,0.1],[-1125,0.12],[-1138,0.15]];
const dGold: Pt[] = [[-1146,0.09],[-1145,-0.02],[-1138,0.01],[-1133,0.04],[-1126,0.03],[-1140,0.08],[-1128,-0.05],[-1138,-0.06],[-1122,0],[-1118,0.02]];
const dCore: Pt[] = [[-1133,0.01],[-1127,0.01]];

const navy = '#0d0887';
const shell = '#2a0593';
const deep = '#4b03a1';
const violet = '#6a00a8';
const purple = '#8b0aa5';
const magenta = '#a82296';
const rose = '#c33d80';
const salmon = '#de5f65';
const coral = '#ed7953';
const orange = '#f89540';
const amber = '#fdb42f';
const gold = '#f5d82a';
const core = '#e6ee2a';

const panels = [
    [
        { pts: aShell, color: shell, r: 18 }, { pts: aOut, color: navy, r: 6.3 }, { pts: aEdge, color: shell, r: 6.3 }, { pts: aBase, color: deep, r: 88 }, { pts: aBaseTail, color: deep, r: 58 }, { pts: aDeep, color: deep, r: 20 },
        { pts: aFillLow, color: violet, r: 72 }, { pts: aFillTail, color: violet, r: 36 }, { pts: aViolet, color: violet, r: 18 }, { pts: aPurple, color: purple, r: 14 }, { pts: aMagenta, color: magenta, r: 11 },
        { pts: aFillMid, color: rose, r: 50 }, { pts: aRose, color: rose, r: 9 }, { pts: aSalmon, color: salmon, r: 10 }, { pts: aFillHot, color: coral, r: 34 },
        { pts: aCoral, color: coral, r: 9 }, { pts: aOrange, color: orange, r: 8 }, { pts: aAmber, color: amber, r: 7 }, { pts: aGold, color: gold, r: 7 }, { pts: aCore, color: core, r: 7 },
    ],
    [
        { pts: bShell, color: shell, r: 16 }, { pts: bOut, color: navy, r: 6.3 }, { pts: bBase, color: deep, r: 60 }, { pts: bBaseTail, color: deep, r: 40 }, { pts: bDeep, color: deep, r: 16 }, { pts: bFillLow, color: violet, r: 44 }, { pts: bFillTail, color: violet, r: 22 },
        { pts: bViolet, color: violet, r: 14 }, { pts: bPurple, color: purple, r: 12 }, { pts: bMagenta, color: magenta, r: 10 }, { pts: bFillMid, color: rose, r: 26 },
        { pts: bRose, color: rose, r: 9 }, { pts: bSalmon, color: salmon, r: 8 }, { pts: bFillHot, color: coral, r: 20 }, { pts: bCoral, color: coral, r: 7 },
        { pts: bOrange, color: orange, r: 7 }, { pts: bAmber, color: amber, r: 7 }, { pts: bGold, color: gold, r: 7 }, { pts: bCore, color: core, r: 7 },
    ],
    [
        { pts: cShell, color: shell, r: 13 }, { pts: cOut, color: navy, r: 6.3 }, { pts: cBase, color: deep, r: 36 }, { pts: cBaseTail, color: deep, r: 24 }, { pts: cDeep, color: deep, r: 13 }, { pts: cFillLow, color: violet, r: 26 },
        { pts: cViolet, color: violet, r: 11 }, { pts: cPurple, color: purple, r: 10 }, { pts: cMagenta, color: magenta, r: 9 }, { pts: cFillMid, color: rose, r: 20 },
        { pts: cRose, color: rose, r: 8 }, { pts: cSalmon, color: salmon, r: 8 }, { pts: cFillHot, color: coral, r: 16 }, { pts: cCoral, color: coral, r: 7 },
        { pts: cOrange, color: orange, r: 7 }, { pts: cAmber, color: amber, r: 7 }, { pts: cGold, color: gold, r: 6.3 }, { pts: cCore, color: core, r: 6.3 },
    ],
    [
        { pts: dOut, color: '#1c0a8c', r: 6.3 }, { pts: dDeep, color: '#3c049b', r: 6.3 }, { pts: dViolet, color: '#5c01a6', r: 6.3 }, { pts: dPurple, color: '#7e03a8', r: 6.3 },
        { pts: dMagenta, color: magenta, r: 6.3 }, { pts: dSalmon, color: salmon, r: 6.3 }, { pts: dOrange, color: coral, r: 6.3 }, { pts: dAmber, color: amber, r: 6.3 },
        { pts: dGold, color: gold, r: 6.3 }, { pts: dCore, color: core, r: 6.3 },
    ],
];

const FONT = '"DejaVu Sans"';
const AXIS_LEFT = 375;
const AXIS_MID = 1537.5;
const AXIS_RIGHT = 2700;
const AXIS_TOP = 288;
const AXIS_HMID = 1194;
const AXIS_BOTTOM = 2100;
const GUTTER = 120;

// gray band, dotted zero line and the frame go on top of the points
const overlay = {
    id: 'overlay',
    afterDatasetsDraw(chart: any) {
        const { ctx, chartArea: a, scales } = chart;
        const hi = scales.y.getPixelForValue(bandHalfWidth);
        const lo = scales.y.getPixelForValue(-bandHalfWidth);
        const zero = scales.y.getPixelForValue(0);
        ctx.save();
        ctx.beginPath();
        ctx.rect(a.left, a.top, a.width, a.height);
        ctx.clip();
        ctx.fillStyle = 'rgba(128,128,128,0.1)';
        ctx.fillRect(a.left, hi, a.width, lo - hi);
        ctx.strokeStyle = 'rgba(128,128,128,0.1)';
        ctx.lineWidth = 4;
        ctx.strokeRect(a.left - 10, hi, a.width + 20, lo - hi);
        ctx.strokeStyle = '#808080';
        ctx.lineWidth = 6.25;
        ctx.setLineDash([6.25, 10.3]);
        ctx.beginPath();
        ctx.moveTo(a.left, zero);
        ctx.lineTo(a.right, zero);
        ctx.stroke();
        ctx.restore();
    },
    afterDraw(chart: any) {
        const { ctx, chartArea: a } = chart;
        ctx.save();
        ctx.strokeStyle = '#000';
        ctx.lineWidth = 3.4;
        ctx.strokeRect(a.left, a.top, a.width, a.height);
        ctx.restore();
    },
};

const Panel = ({ index }: { index: number }) => {
    const chartRef = useRef<HTMLCanvasElement | null>(null);

    useEffect(() => {
        const ctx = chartRef.current?.getContext('2d');
        if (!ctx) return;

        const isRight = index % 2 === 1;
        const isBottom = index >= 2;
        const layers = panels[index];
        const tickStyle = { size: 41.67, family: FONT };

        const myChart = new Chart(ctx, {
            type: 'scatter',
            data: {
                datasets: layers.map((layer, i) => ({
                    data: layer.pts.map(([x, y]) => ({ x, y })),
                    backgroundColor: layer.color,
                    pointRadius: layer.r,
                    pointBorderWidth: 0,
                    order: layers.length - i,
                })),
            },
            plugins: [overlay],
            options: {
                animation: false,
                responsive: false,
                events: [],
                layout: {
                    autoPadding: false,
                    padding: {
                        left: (isRight ? AXIS_MID : AXIS_LEFT) - GUTTER,
                        right: 3000 - (isRight ? AXIS_RIGHT : AXIS_MID),
                        top: isBottom ? AXIS_HMID : AXIS_TOP,
                        bottom: isBottom ? 2400 - AXIS_BOTTOM - GUTTER : 2400 - AXIS_HMID,
                    },
                },
                plugins: { legend: { display: false }, tooltip: { enabled: false } },
                scales: {
                    x: {
                        type: 'linear',
                        display: isBottom,
                        min: -1291.7,
                        max: -133.3,
                        border: { display: false },
                        grid: { drawOnChartArea: false, drawTicks: true, tickLength: 14.6, tickWidth: 3.4, tickColor: '#000' },
                        ticks: {
                            color: '#000',
                            font: tickStyle,
                            padding: 12,
                            maxRotation: 0,
                            autoSkip: false,
                            callback: (v: any) => String(v).replace('-', '\u2212'),
                        },
                        afterBuildTicks: (scale: any) => {
                            scale.ticks = xTicks.map((value) => ({ value }));
                        },
                        afterFit: (scale: any) => {
                            scale.height = isBottom ? GUTTER : 0;
                        },
                    },
                    y: {
                        type: 'linear',
                        min: -7.32,
                        max: 7.06,
                        border: { display: false },
                        grid: { drawOnChartArea: false, drawTicks: true, tickLength: 14.6, tickWidth: 3.4, tickColor: '#000' },
                        ticks: {
                            display: !isRight,
                            color: '#000',
                            font: tickStyle,
                            padding: 12,
                            labelOffset: 3,
                            autoSkip: false,
                            callback: (v: any) => String(v).replace('-', '\u2212'),
                        },
                        afterBuildTicks: (scale: any) => {
                            scale.ticks = yTicks.map((value) => ({ value }));
                        },
                        afterFit: (scale: any) => {
                            scale.width = GUTTER;
                        },
                    },
                },
            } as any,
        });

        return () => {
            myChart.destroy();
        };
    }, [index]);

    return <canvas ref={chartRef} width={3000} height={2400} style={{ position: 'absolute', left: 0, top: 0, width: 3000, height: 2400 }} />;
};

const textStyle: React.CSSProperties = {
    position: 'absolute',
    fontFamily: FONT,
    fontSize: 41.67,
    lineHeight: '45px',
    color: '#000',
    whiteSpace: 'pre',
};

const subStyle: React.CSSProperties = { fontSize: 29.2, verticalAlign: -9, lineHeight: 0 };

const InfoBox = ({ index }: { index: number }) => {
    const dx = index % 2 === 1 ? 1162.5 : 0;
    const dy = index >= 2 ? 906 : 0;
    return (
        <>
            <div
                style={{
                    position: 'absolute',
                    left: 1228.5 + dx,
                    top: 1043.5 + dy,
                    width: 269,
                    height: 123,
                    boxSizing: 'border-box',
                    border: '3.4px solid #bfbfbf',
                    background: '#fff',
                }}
            />
            <div style={{ ...textStyle, right: 3000 - 1480 - dx, top: 1057 + dy, textAlign: 'right' }}>
                <i>N</i>
                <span style={subStyle}>train</span>: {trainSizes[index]}
            </div>
            <div style={{ ...textStyle, right: 3000 - 1480 - dx, top: 1102 + dy, textAlign: 'right' }}>{`MAE:  ${maeValues[index]}`}</div>
        </>
    );
};

const App = () => {
    return (
        <div style={{ position: 'absolute', left: 0, top: 0, width: 3000, height: 2400, background: '#fff', overflow: 'hidden' }}>
            {panels.map((_, i) => (
                <Panel key={i} index={i} />
            ))}
            {panels.map((_, i) => (
                <InfoBox key={i} index={i} />
            ))}
            <div style={{ ...textStyle, left: 1500, top: 2209, transform: 'translateX(-50%)' }}>
                CCSD(T) <i>E</i>
                <i style={{ ...subStyle, verticalAlign: -9 }}>c</i> (mH)
            </div>
            <div style={{ ...textStyle, left: 236, top: 1200, transform: 'translate(-50%, -50%) rotate(-90deg)' }}>Prediction Error (mH)</div>
        </div>
    );
};

export default App;
